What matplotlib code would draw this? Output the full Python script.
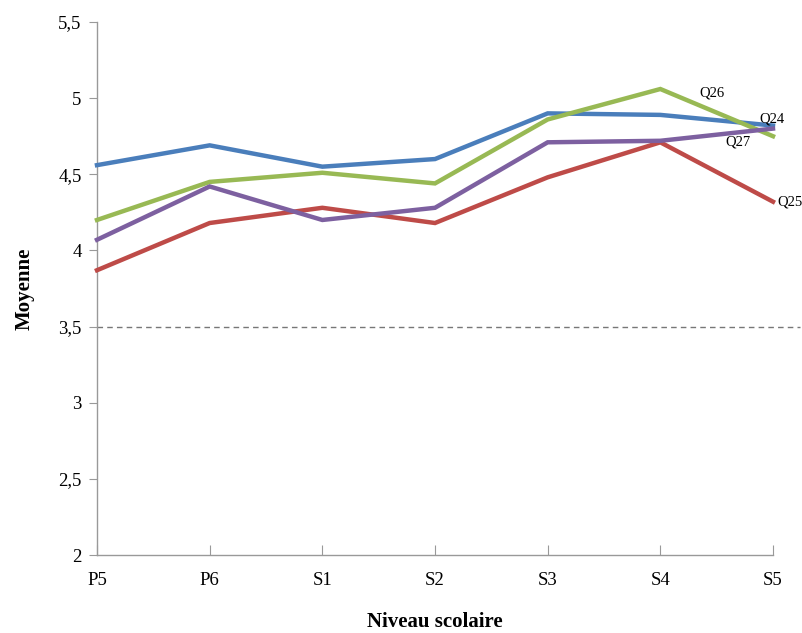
import matplotlib
matplotlib.use("Agg")
import matplotlib.pyplot as plt

categories = ["P5", "P6", "S1", "S2", "S3", "S4", "S5"]
q24 = [4.56, 4.69, 4.55, 4.60, 4.90, 4.89, 4.82]
q25 = [3.87, 4.18, 4.28, 4.18, 4.48, 4.71, 4.32]
q26 = [4.20, 4.45, 4.51, 4.44, 4.86, 5.06, 4.75]
q27 = [4.07, 4.42, 4.20, 4.28, 4.71, 4.72, 4.80]
yticks = [2, 2.5, 3, 3.5, 4, 4.5, 5, 5.5]
ytick_labels = ["2", "2,5", "3", "3,5", "4", "4,5", "5", "5,5"]
threshold = 3.5

plt.rcParams['font.family'] = ['Liberation Serif', 'DejaVu Serif']

fig = plt.figure(figsize=(8.02, 6.33), dpi=100)
ax = fig.add_axes([97/802, 1-555/633, (773-97)/802, (555-22)/633])

x = list(range(len(categories)))
series = [("Q24", q24, "#4A7EBB"), ("Q25", q25, "#BE4B48"),
          ("Q26", q26, "#98B954"), ("Q27", q27, "#7D60A0")]
for name, vals, col in series:
    ax.plot(x, vals, color=col, lw=3.2, solid_joinstyle='miter', clip_on=False, zorder=3)

ax.axhline(threshold, xmin=0, xmax=(800-97)/(773-97), color="#777777", lw=1,
           ls=(0, (4, 3)), clip_on=False, zorder=2)

ax.set_xlim(0, len(categories)-1)
ax.set_ylim(2, 5.5)
ax.set_xticks(x)
ax.set_xticklabels(categories, fontsize=13.5)
ax.set_yticks(yticks)
ax.set_yticklabels(ytick_labels, fontsize=13.5)
ax.tick_params(axis='x', direction='in', length=7, color="#999999", pad=12)
ax.tick_params(axis='y', direction='out', length=6, color="#999999", pad=5)
for s in ["top", "right"]:
    ax.spines[s].set_visible(False)
for s in ["left", "bottom"]:
    ax.spines[s].set_color("#999999")
    ax.spines[s].set_linewidth(1)

ax.set_xlabel("Niveau scolaire", fontsize=15, fontweight='bold', labelpad=17)
ax.set_ylabel("Moyenne", fontsize=15, fontweight='bold', labelpad=17)

# series labels
ax.annotate("Q26", (5, q26[5]), xytext=(37, -3), textcoords='offset points',
            fontsize=10.5, ha='center', va='center')
ax.annotate("Q24", (6, q24[6]), xytext=(-1, 5), textcoords='offset points',
            fontsize=10.5, ha='center', va='center')
ax.annotate("Q27", (5, q27[5]), xytext=(56, -1), textcoords='offset points',
            fontsize=10.5, ha='center', va='center')
ax.annotate("Q25", (6, q25[6]), xytext=(12, 0), textcoords='offset points',
            fontsize=10.5, ha='center', va='center', annotation_clip=False)

fig.savefig("out.png", dpi=100)
